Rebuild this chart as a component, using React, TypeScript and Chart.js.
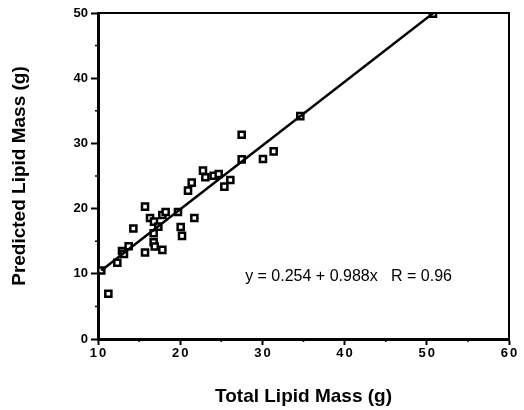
import React, { useEffect, useRef } from "react";
import { Chart, registerables } from "chart.js";

Chart.register(...registerables);

const totalLipid = [10.4, 11.26, 12.35, 12.92, 13.16, 13.73, 14.3, 15.72, 15.72, 16.33, 16.81, 16.77, 16.77, 16.9, 17.34, 17.83, 17.83, 18.23, 19.73, 20.06, 20.22, 20.95, 21.4, 21.72, 22.77, 23.06, 24.07, 24.68, 25.37, 26.1, 27.48, 27.48, 30.07, 31.37, 34.61, 50.75];
const predictedLipid = [10.5, 6.94, 11.7, 13.5, 13.06, 14.23, 16.94, 20.3, 13.27, 18.57, 18.0, 16.22, 14.85, 14.18, 17.24, 19.03, 13.67, 19.49, 19.49, 17.19, 15.82, 22.76, 23.98, 18.57, 25.82, 24.8, 25.05, 25.3, 23.37, 24.39, 31.33, 27.55, 27.6, 28.78, 34.18, 49.9];

const fitX = [10.4, 50.75];
const fitY = [10.5, 49.95];

const xTicks = [10, 20, 30, 40, 50, 60];
const yTicks = [0, 10, 20, 30, 40, 50];
const annotation = "y = 0.254 + 0.988x   R = 0.96";

const FONT = "'Liberation Sans', Arial, Helvetica, sans-serif";

export default function App() {
  const ref = useRef<HTMLCanvasElement | null>(null);
  useEffect(() => {
    if (!ref.current) return;
    const pts = totalLipid.map((x, i) => ({ x, y: predictedLipid[i] }));
    const line = fitX.map((x, i) => ({ x, y: fitY[i] }));
    const extras = {
      id: "extras",
      afterDraw(chart: any) {
        const { ctx, chartArea, scales } = chart;
        const xs = scales.x, ys = scales.y;
        ctx.save();
        ctx.strokeStyle = "#000";
        ctx.lineWidth = 2;
        ctx.strokeRect(chartArea.left, chartArea.top, chartArea.right - chartArea.left, chartArea.bottom - chartArea.top);
        ctx.lineWidth = 1.5;
        ctx.beginPath();
        for (let v = 5; v < 50; v += 10) {
          const py = ys.getPixelForValue(v);
          ctx.moveTo(chartArea.left - 3, py);
          ctx.lineTo(chartArea.left, py);
        }
        for (let v = 15; v < 60; v += 10) {
          const px = xs.getPixelForValue(v);
          ctx.moveTo(px, chartArea.bottom);
          ctx.lineTo(px, chartArea.bottom + 3);
        }
        ctx.stroke();
        ctx.fillStyle = "#000";
        ctx.font = `16px ${FONT}`;
        ctx.textAlign = "left";
        ctx.textBaseline = "middle";
        ctx.fillText(annotation, xs.getPixelForValue(27.9), ys.getPixelForValue(9.55));
        ctx.restore();
      },
    };
    const spacedLabels = (s: any) => {
      if (s._spaced) return;
      s._spaced = true;
      const orig = s.drawLabels;
      s.drawLabels = function (area: any) {
        const c = this.ctx;
        const prev = c.letterSpacing;
        c.letterSpacing = "2px";
        c.save();
        c.translate(1, 0);
        orig.call(this, area);
        c.restore();
        c.letterSpacing = prev || "0px";
      };
    };
    const chart = new Chart(ref.current, {
      type: "scatter",
      data: {
        datasets: [
          {
            type: "line",
            data: line,
            borderColor: "#000",
            borderWidth: 2.5,
            pointRadius: 0,
            fill: false,
          } as any,
          {
            data: pts,
            pointStyle: "rect",
            pointRadius: 4.3,
            backgroundColor: "#fff",
            borderColor: "#000",
            borderWidth: 2.5,
          },
          {
            data: pts,
            pointStyle: "rect",
            pointRadius: 1,
            backgroundColor: "#000",
            borderColor: "#000",
            borderWidth: 0,
          },
        ],
      },
      options: {
        animation: false,
        responsive: true,
        maintainAspectRatio: false,
        layout: { padding: { left: 8, right: 15, top: 13, bottom: 0 } },
        plugins: { legend: { display: false }, tooltip: { enabled: false } },
        scales: {
          x: {
            type: "linear",
            min: 10,
            max: 60,
            afterBuildTicks: (s: any) => { s.ticks = xTicks.map((v) => ({ value: v })); },
            afterFit: (s: any) => { s.height = 71; spacedLabels(s); },
            ticks: { color: "#000", font: { size: 13, weight: "bold", family: FONT }, padding: 1, maxRotation: 0 },
            grid: { drawOnChartArea: false, drawTicks: true, tickLength: 6, tickColor: "#000", tickWidth: 2 },
            border: { color: "#000", width: 3 },
            title: { display: true, text: "Total Lipid Mass (g)", color: "#000", font: { size: 19, weight: "bold", family: FONT }, padding: { top: 0, bottom: 2 } },
          },
          y: {
            type: "linear",
            min: 0,
            max: 50,
            afterBuildTicks: (s: any) => { s.ticks = yTicks.map((v) => ({ value: v })); },
            afterFit: (s: any) => { s.width = 90; },
            ticks: { color: "#000", font: { size: 13, weight: "bold", family: FONT }, padding: 3 },
            grid: { drawOnChartArea: false, drawTicks: true, tickLength: 7, tickColor: "#000", tickWidth: 2 },
            border: { color: "#000", width: 3 },
            title: { display: true, text: "Predicted Lipid Mass (g)", color: "#000", font: { size: 19, weight: "bold", family: FONT }, padding: { top: 0, bottom: 0 } },
          },
        },
      },
      plugins: [extras],
    } as any);
    return () => chart.destroy();
  }, []);
  return (
    <div style={{ position: "absolute", left: 0, top: 0, width: 524, height: 410, background: "#fff" }}>
      <canvas ref={ref} />
    </div>
  );
}
